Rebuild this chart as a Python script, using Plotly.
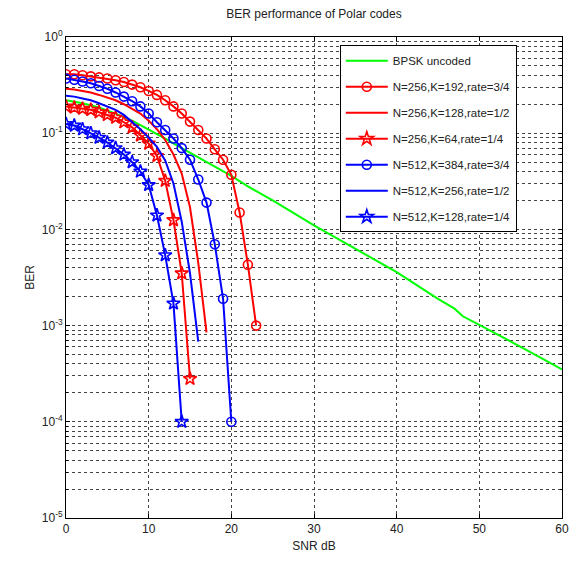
import plotly.graph_objects as go

# ---------------- data ----------------
snr_bpsk = [0, 2, 4, 6, 8, 10, 12, 14, 16, 18, 20, 22, 25, 30, 35, 40, 45, 46, 47, 48, 49, 50, 55, 60]
ber_bpsk = [0.22, 0.205, 0.185, 0.16, 0.135, 0.11, 0.088, 0.07, 0.056, 0.045, 0.036, 0.028, 0.02,
            0.011, 0.0063, 0.0036, 0.0019, 0.0017, 0.0015, 0.00125, 0.00112, 0.00102, 0.0006, 0.00035]

snr_256_192 = list(range(0, 24))
ber_256_192 = [0.41, 0.41, 0.40, 0.39, 0.38, 0.37, 0.355, 0.34, 0.32, 0.30, 0.275, 0.25, 0.22,
               0.19, 0.16, 0.132, 0.108, 0.088, 0.068, 0.053, 0.037, 0.015, 0.0043, 0.001]

snr_256_128 = list(range(0, 18))
ber_256_128 = [0.29, 0.285, 0.275, 0.265, 0.25, 0.235, 0.22, 0.2, 0.18, 0.16, 0.135, 0.11,
               0.085, 0.06, 0.038, 0.017, 0.0045, 0.00085]

snr_256_64 = list(range(0, 16))
ber_256_64 = [0.19, 0.185, 0.18, 0.175, 0.165, 0.155, 0.145, 0.13, 0.115, 0.095, 0.078, 0.058,
              0.032, 0.0125, 0.0035, 0.00028]

snr_512_384 = list(range(0, 21))
ber_512_384 = [0.37, 0.36, 0.345, 0.33, 0.31, 0.29, 0.265, 0.24, 0.215, 0.19, 0.16, 0.13, 0.108,
               0.088, 0.07, 0.053, 0.033, 0.019, 0.007, 0.0019, 0.0001]

snr_512_256 = list(range(0, 17))
ber_512_256 = [0.245, 0.24, 0.23, 0.22, 0.205, 0.19, 0.175, 0.155, 0.13, 0.11, 0.09, 0.072,
               0.052, 0.03, 0.012, 0.0035, 0.00068]

snr_512_128 = list(range(0, 15))
ber_512_128 = [0.125, 0.12, 0.11, 0.1, 0.09, 0.08, 0.07, 0.06, 0.05, 0.04, 0.029, 0.014,
               0.0054, 0.0017, 0.0001]

legend_names = ["BPSK uncoded",
                "N=256,K=192,rate=3/4",
                "N=256,K=128,rate=1/2",
                "N=256,K=64,rate=1/4",
                "N=512,K=384,rate=3/4",
                "N=512,K=256,rate=1/2",
                "N=512,K=128,rate=1/4"]

x_ticks = [0, 10, 20, 30, 40, 50, 60]
y_ticks = [1, 0.1, 0.01, 0.001, 0.0001, 0.00001]
y_ticktext = ["10<sup>0</sup>", "10<sup>-1</sup>", "10<sup>-2</sup>", "10<sup>-3</sup>",
              "10<sup>-4</sup>", "10<sup>-5</sup>"]

# ---------------- figure ----------------
RED, BLUE, GREEN = "#ff0000", "#0000ff", "#00ff00"
FONT = "Liberation Sans, Arial"
series = [
    (snr_bpsk, ber_bpsk, GREEN, None),
    (snr_256_192, ber_256_192, RED, "circle-open"),
    (snr_256_128, ber_256_128, RED, None),
    (snr_256_64, ber_256_64, RED, "star-open"),
    (snr_512_384, ber_512_384, BLUE, "circle-open"),
    (snr_512_256, ber_512_256, BLUE, None),
    (snr_512_128, ber_512_128, BLUE, "star-open"),
]

fig = go.Figure()
for i, (x, y, c, sym) in enumerate(series):
    if sym:
        mode = "lines+markers"
        marker = dict(symbol=sym, size=9 if "circle" in sym else 10, color=c,
                      line=dict(color=c, width=1.6))
    else:
        mode = "lines"
        marker = None
    fig.add_trace(go.Scatter(x=x, y=y, mode=mode, name=legend_names[i],
                             line=dict(color=c, width=2), marker=marker,
                             legendgroup=f"g{i}"))

axis_common = dict(showline=True, linecolor="black", linewidth=1, mirror="ticks",
                   ticks="inside", ticklen=4, tickcolor="black", automargin=False,
                   zeroline=False, showgrid=True, gridcolor="#444444", griddash="dot",
                   gridwidth=1, tickfont=dict(family=FONT, size=12, color="#222"))

fig.update_xaxes(range=[0, 60], tickvals=x_ticks,
                 title=dict(text="SNR dB", standoff=6, font=dict(family=FONT, size=12, color="#222")),
                 **axis_common)
fig.update_yaxes(type="log", range=[-5, 0], tickvals=y_ticks, ticktext=y_ticktext,
                 title=dict(text="BER", standoff=4, font=dict(family=FONT, size=12, color="#222")),
                 minor=dict(dtick="D1", showgrid=True, gridcolor="#444444", griddash="dot",
                            gridwidth=1, ticks="inside", ticklen=2, tickcolor="black"),
                 **axis_common)

fig.update_layout(
    width=571, height=567,
    margin=dict(l=66, r=9, t=37, b=49, autoexpand=False),
    paper_bgcolor="white", plot_bgcolor="white",
    title=dict(text="BER performance of Polar codes", xref="paper", x=0.5, xanchor="center",
               y=0.975, yanchor="middle", font=dict(family=FONT, size=12, color="#222")),
    legend=dict(x=0.552, y=0.983, xanchor="left", yanchor="top",
                bgcolor="white", bordercolor="black", borderwidth=1,
                tracegroupgap=7, itemwidth=42,
                font=dict(family=FONT, size=11.5, color="#222")),
    showlegend=True,
)

fig.write_html("out.html")
